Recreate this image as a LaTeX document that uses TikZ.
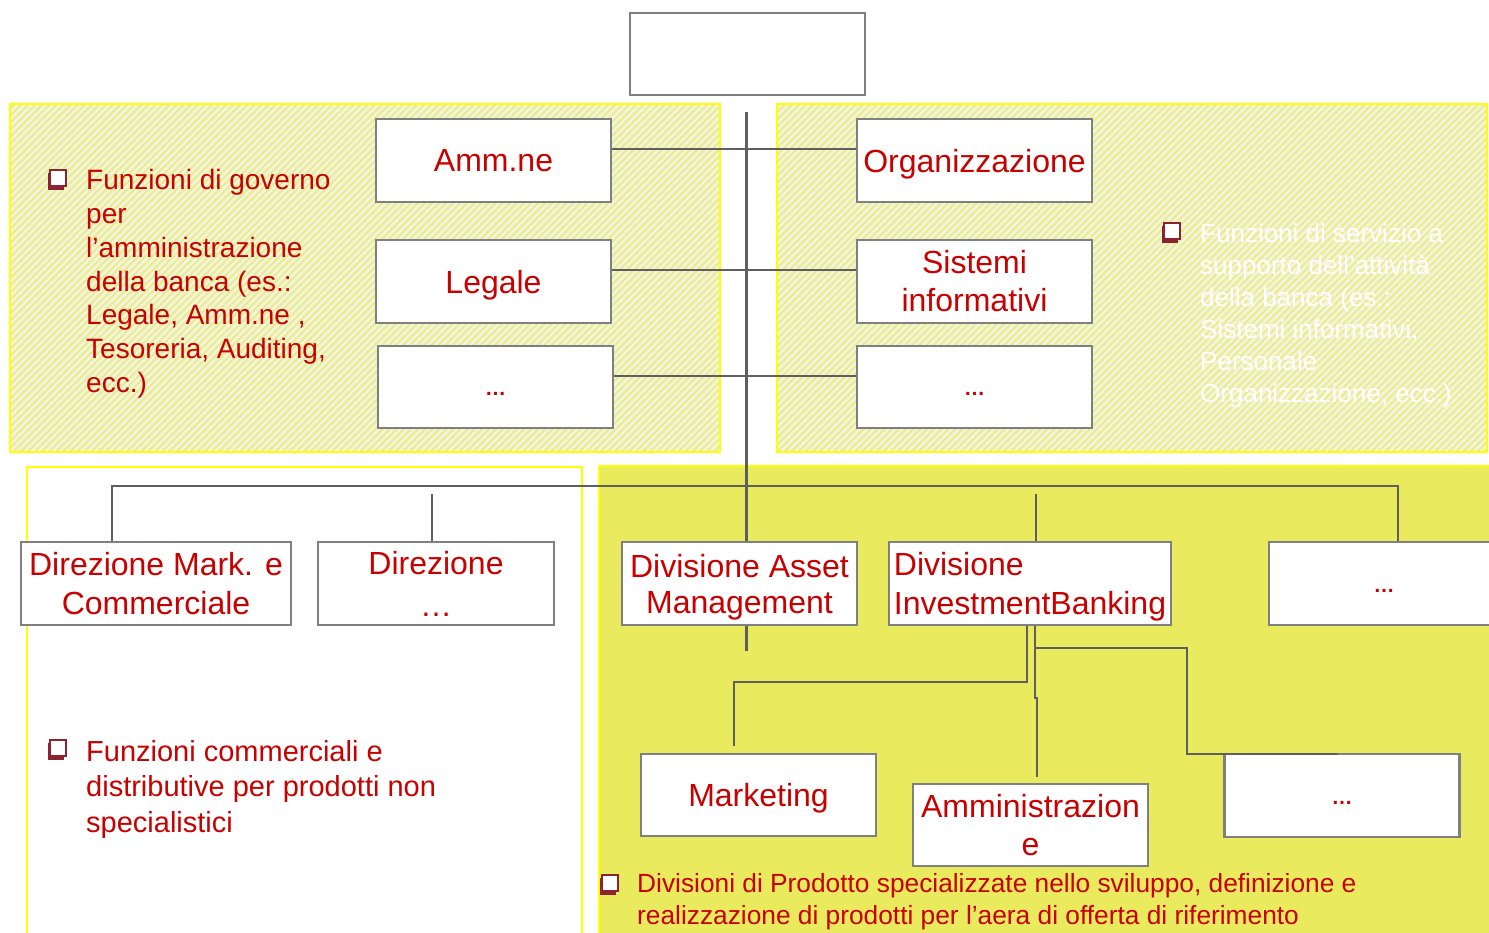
\documentclass[tikz,border=0pt]{standalone}
\usepackage{fontspec}
\setmainfont{Liberation Sans}
\usetikzlibrary{patterns.meta}

\definecolor{txtred}{RGB}{200,0,0}
\definecolor{bulletred}{RGB}{140,35,50}
\definecolor{boxgray}{RGB}{128,128,128}
\definecolor{linegray}{RGB}{95,95,95}
\definecolor{panelyellow}{RGB}{255,255,0}
\definecolor{hatchbase}{RGB}{243,243,228}
\definecolor{hatchline}{RGB}{234,238,130}
\definecolor{divfill}{RGB}{233,234,94}

% text set without its descender depth, so it centres like text without one
\newcommand{\nodepthtext}[1]{\raisebox{0pt}[\height][0pt]{#1}}
% small ellipsis sitting a little below the middle of its box
\newcommand{\lowdots}[1]{\raisebox{-#1}[0pt][0pt]{…}}

\tikzset{
  orgbox/.style={draw=boxgray, line width=2.5pt, fill=white, minimum width=235pt,
    minimum height=83pt, inner sep=2pt, text=txtred, align=center,
    font=\fontsize{32}{38}\selectfont},
  dotsbox/.style={orgbox, font=\bfseries\fontsize{21}{24}\selectfont},
  conn/.style={draw=linegray, line width=2pt},
  trunk/.style={draw=linegray, line width=3pt},
  hatchpanel/.style={draw=panelyellow, line width=2pt, preaction={fill=hatchbase},
    pattern={Lines[angle=45,distance=5pt,line width=2pt]}, pattern color=hatchline},
  note/.style={anchor=north west, inner sep=0pt, align=left, text=txtred},
  bulletsq/.pic={
    \fill[bulletred] (0,3) rectangle (16,19.5);
    \filldraw[fill=white, draw=bulletred, line width=1.5pt] (2,0) rectangle (18,16);
  },
}

\begin{document}
\begin{tikzpicture}[x=1pt, y=-1pt]
\useasboundingbox (0,0) rectangle (1489,932);

% background panels
\path[hatchpanel] (10,104) rectangle (720,452);
\path[hatchpanel] (777,104) rectangle (1487,452);
\draw[panelyellow, line width=2pt, fill=white] (27,467) rectangle (582,940);
\draw[panelyellow, line width=2pt, fill=divfill] (599,466) rectangle (1495,940);

% reference points for the connectors
\coordinate (trunkTop) at (746,112);
\coordinate (barL) at (112,486);
\coordinate (barR) at (1398,486);
\coordinate (stubDir) at (432,494);
\coordinate (stubIB) at (1036,494);
\coordinate (ibA) at (1027,682);
\coordinate (mktTop) at (734,746);
\coordinate (ibB) at (1035,698);
\coordinate (amnTop) at (1037,777);
\coordinate (ibC) at (1035,648);
\coordinate (ibCturn) at (1187,754);
\coordinate (ibCend) at (1338,754);

% boxes
\node[orgbox, minimum height=82pt] (top) at (747.5,54) {};
\node[orgbox] (amm) at (493.5,160.5) {Amm.ne};
\node[orgbox] (leg) at (493.5,281.5) {\nodepthtext{Legale}};
\node[dotsbox, minimum height=82pt] (dotsL) at (495.5,387) {\lowdots{8pt}};
\node[orgbox] (org) at (974.5,160.5) {\nodepthtext{Organizzazione}};
\node[orgbox] (sis) at (974.5,281.5) {Sistemi\\informativi};
\node[dotsbox, minimum height=82pt] (dotsR) at (974.5,387) {\lowdots{8pt}};

\node[orgbox, minimum width=270pt, font=\fontsize{32}{39}\selectfont] (dirM) at (156,583.5) {Direzione Mark. e\\Commerciale};
\node[orgbox, minimum width=236pt, font=\fontsize{32}{42}\selectfont] (dirX) at (436,583.5) {Direzione\\…};
\node[orgbox, font=\fontsize{32}{36}\selectfont] (divAM) at (739.5,583.5) {Divisione Asset\\\nodepthtext{Management}};
\node[orgbox, minimum width=282pt, align=left, font=\fontsize{32}{39}\selectfont] (divIB) at (1030,583.5) {Divisione\\\nodepthtext{InvestmentBanking}};
\node[dotsbox, minimum width=230pt] (dotsD) at (1384,583.5) {\lowdots{9pt}};

\node[orgbox, minimum height=82pt] (mkt) at (758.5,795) {\nodepthtext{Marketing}};
\node[orgbox, minimum height=82pt] (amn) at (1030.5,825) {Amministrazion\\e};
\node[dotsbox] (dotsS) at (1342,795.5) {\lowdots{9pt}};

% connectors of the staff functions
\draw[conn] (amm.east |- 0,149) -- (org.west |- 0,149);
\draw[conn] (leg.east |- 0,270) -- (sis.west |- 0,270);
\draw[conn, line width=2.5pt] (dotsL.east |- 0,376) -- (dotsR.west |- 0,376);
\draw[trunk] (trunkTop) -- (trunkTop |- divAM.north);
\draw[trunk] (trunkTop |- divAM.south) -- ++(0,25);

% connectors of the line units
\draw[conn] (barL |- dirM.north) -- (barL) -- (barR) -- (barR |- dotsD.north);
\draw[conn] (stubDir) -- (stubDir |- dirX.north);
\draw[conn] (stubIB) -- (stubIB |- divIB.north);

% connectors below Divisione InvestmentBanking
\draw[conn] (ibA |- divIB.south) -- (ibA) -- (mktTop |- ibA) -- (mktTop);
\draw[conn] (ibB |- divIB.south) -- (ibB) -- (amnTop |- ibB) -- (amnTop);
\draw[conn] (ibC) -- (ibCturn |- ibC) -- (ibCturn) -- (ibCend);

% descriptive notes
\pic at (48,170) {bulletsq};
\node[note, font=\fontsize{28}{33.7}\selectfont] (govtxt) at (86,169.5)
  {Funzioni di governo\\per\\l’amministrazione\\della banca (es.:\\Legale, Amm.ne ,\\Tesoreria, Auditing,\\ecc.)};

\pic at (1162,223) {bulletsq};
\node[note, text=white, font=\fontsize{26}{32}\selectfont] (srvtxt) at (1200,223)
  {Funzioni di servizio a\\supporto dell’attività\\della banca (es.:\\Sistemi informativi,\\Personale\\Organizzazione, ecc.)};

\pic at (48,740) {bulletsq};
\node[note, font=\fontsize{29}{35.5}\selectfont] (comtxt) at (86,740)
  {Funzioni commerciali e\\distributive per prodotti non\\specialistici};

\pic at (600,875) {bulletsq};
\node[note, font=\fontsize{26.3}{32}\selectfont] (divtxt) at (637,873.5)
  {Divisioni di Prodotto specializzate nello sviluppo, definizione e\\realizzazione di prodotti per l’aera di offerta di riferimento};
\end{tikzpicture}
\end{document}
